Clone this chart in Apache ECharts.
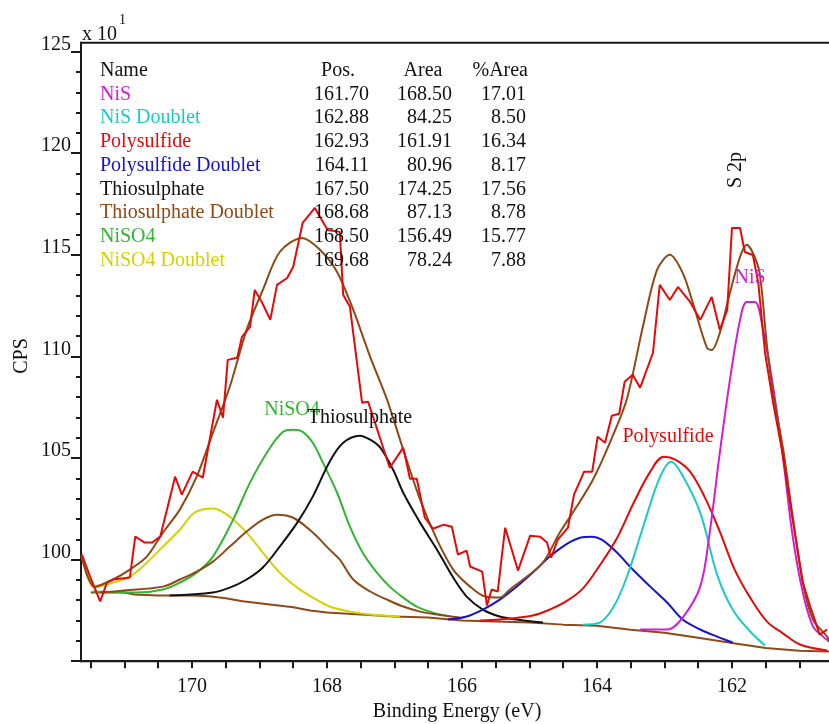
<!DOCTYPE html>
<html><head><meta charset="utf-8">
<script src="https://cdn.jsdelivr.net/npm/echarts@6/dist/echarts.min.js"></script>
<style>html,body{margin:0;padding:0;background:#fff}#c{width:829px;height:724px}</style>
</head><body><div id="c"></div>
<script>
// ---- data (binding energy eV, CPS x10^1) ----
const xTickValues = [161,161.5,162,162.5,163,163.5,164,164.5,165,165.5,166,166.5,167,167.5,168,168.5,169,169.5,170,170.5,171,171.5];
const xLabelValues = [162,164,166,168,170];
const yTickValues = [95,100,105,110,115,120,125];
const yLabelValues = [100,105,110,115,120,125];

const tableNames = ['NiS','NiS Doublet','Polysulfide','Polysulfide Doublet','Thiosulphate','Thiosulphate Doublet','NiSO4','NiSO4 Doublet'];
const tablePos = ['161.70','162.88','162.93','164.11','167.50','168.68','168.50','169.68'];
const tableArea = ['168.50','84.25','161.91','80.96','174.25','87.13','156.49','78.24'];
const tablePct = ['17.01','8.50','16.34','8.17','17.56','8.78','15.77','7.88'];

const rawData = [[171.63,100.25],[171.51,99.16],[171.36,97.94],[171.26,98.87],[171.17,99.02],[170.92,99.12],[170.84,101.13],[170.70,100.84],[170.59,100.84],[170.47,101.13],[170.25,104.08],[170.15,103.20],[169.99,104.33],[169.84,104.03],[169.63,107.87],[169.54,106.98],[169.47,109.83],[169.33,109.93],[169.26,110.96],[169.14,111.46],[169.07,113.27],[168.96,112.64],[168.84,111.80],[168.74,113.52],[168.59,113.86],[168.50,114.41],[168.36,116.57],[168.18,117.31],[167.99,116.22],[167.81,116.13],[167.76,113.03],[167.66,112.44],[167.48,107.72],[167.39,107.77],[167.07,104.52],[166.87,105.51],[166.77,103.98],[166.67,103.98],[166.55,102.06],[166.43,101.52],[166.27,101.72],[166.15,101.62],[166.06,100.25],[165.93,100.44],[165.88,99.66],[165.70,99.41],[165.63,97.74],[165.56,98.53],[165.47,98.43],[165.36,101.57],[165.17,99.46],[164.99,101.18],[164.84,101.13],[164.74,100.84],[164.68,100.10],[164.58,100.98],[164.43,101.57],[164.34,103.20],[164.19,104.33],[164.07,104.33],[163.99,106.05],[163.88,105.75],[163.78,107.08],[163.67,107.18],[163.59,108.75],[163.47,109.10],[163.36,108.46],[163.17,110.18],[163.07,113.52],[162.92,112.78],[162.80,113.42],[162.62,112.68],[162.47,111.80],[162.30,112.93],[162.18,111.31],[162.07,112.29],[162.00,116.32],[161.88,116.32],[161.81,115.14],[161.69,114.99],[161.61,113.62],[161.51,110.18],[161.39,107.72],[161.26,105.41],[161.10,101.97],[160.95,98.87],[160.84,97.69],[160.70,96.31],[160.59,96.56]];

const envelope = [[171.64,100.20],[171.44,98.67],[171.17,99.02],[170.92,99.51],[170.67,100.15],[170.43,101.33],[170.18,102.46],[169.93,104.08],[169.69,106.24],[169.44,108.51],[169.19,111.31],[168.95,113.27],[168.70,115.14],[168.37,115.83],[168.10,115.24],[167.85,114.16],[167.61,112.29],[167.36,109.98],[167.11,107.87],[166.87,105.41],[166.62,102.95],[166.37,100.98],[166.13,99.51],[165.88,98.67],[165.66,98.18],[165.44,98.13],[165.29,98.53],[165.04,99.16],[164.80,99.85],[164.55,101.33],[164.30,102.61],[164.06,103.93],[163.81,105.75],[163.56,107.87],[163.32,111.46],[163.11,114.26],[162.92,115.00],[162.73,114.11],[162.58,112.64],[162.37,110.42],[162.30,110.32],[162.18,111.16],[162.03,113.13],[161.88,114.90],[161.78,115.49],[161.69,115.09],[161.59,114.11],[161.48,110.47],[161.39,108.21],[161.24,105.41],[161.10,102.11],[160.95,98.87],[160.80,97.05],[160.59,96.21],[160.56,95.95]];

const background = [[171.50,98.38],[171.00,98.38],[170.85,98.28],[170.50,98.23],[170.00,98.23],[169.75,98.20],[169.50,98.10],[169.25,97.95],[169.00,97.85],[168.75,97.75],[168.50,97.65],[168.25,97.50],[168.00,97.40],[167.50,97.30],[167.00,97.20],[166.50,97.15],[166.00,97.00],[165.50,96.95],[165.00,96.90],[164.50,96.80],[164.00,96.75],[163.50,96.55],[163.00,96.40],[162.50,96.15],[162.00,95.90],[161.50,95.65],[161.00,95.52],[160.56,95.48]];

const nisoDoublet = [[171.63,100.20],[171.44,98.62],[171.17,98.87],[170.92,99.16],[170.67,99.85],[170.43,100.64],[170.18,101.47],[169.96,102.31],[169.69,102.51],[169.44,102.11],[169.19,101.33],[168.95,100.34],[168.70,99.36],[168.44,98.62],[168.21,98.13],[167.96,97.69],[167.66,97.44],[167.36,97.30],[166.92,97.20]];

const niso = [[171.47,98.43],[170.81,98.38],[170.43,98.53],[170.18,98.87],[169.93,99.36],[169.69,100.15],[169.39,101.97],[169.14,103.79],[168.89,105.26],[168.65,106.29],[168.50,106.39],[168.36,106.29],[168.21,105.75],[168.06,104.77],[167.85,103.29],[167.66,101.62],[167.47,100.34],[167.26,99.36],[167.07,98.67],[166.87,98.13],[166.67,97.69],[166.43,97.39],[166.18,97.20]];

const thioDoublet = [[171.36,98.38],[171.00,98.48],[170.43,98.67],[170.18,99.02],[169.93,99.41],[169.69,99.90],[169.44,100.64],[169.19,101.38],[168.95,101.97],[168.74,102.21],[168.50,102.06],[168.21,101.33],[167.96,100.49],[167.81,100.00],[167.61,99.02],[167.36,98.43],[167.11,98.03],[166.87,97.69],[166.62,97.44],[166.37,97.30],[166.03,97.15]];

const thio = [[170.33,98.23],[169.69,98.38],[169.44,98.62],[169.19,99.02],[168.95,99.61],[168.70,100.64],[168.44,101.82],[168.21,103.10],[167.96,104.82],[167.76,105.75],[167.51,106.10],[167.36,105.90],[167.21,105.51],[167.02,104.42],[166.87,103.29],[166.62,101.82],[166.37,100.49],[166.13,99.12],[165.93,98.18],[165.69,97.54],[165.44,97.20],[165.19,97.05],[164.80,96.90]];

const polyDoublet = [[166.21,97.05],[165.93,97.20],[165.69,97.54],[165.44,98.03],[165.19,98.67],[164.95,99.36],[164.70,100.15],[164.44,100.79],[164.25,101.08],[164.07,101.13],[163.93,100.98],[163.70,100.34],[163.47,99.51],[163.21,98.67],[162.96,97.89],[162.73,97.05],[162.47,96.56],[162.22,96.21],[161.99,95.92]];

const poly = [[165.73,97.00],[165.44,97.05],[164.95,97.25],[164.70,97.54],[164.44,97.98],[164.21,98.57],[163.96,99.71],[163.70,101.08],[163.47,102.70],[163.21,104.33],[163.01,105.06],[162.84,104.92],[162.62,104.33],[162.40,103.05],[162.18,101.38],[161.96,99.51],[161.73,98.13],[161.48,96.95],[161.24,96.36],[160.99,95.82],[160.59,95.53]];

const nisDoublet = [[164.21,96.80],[163.96,96.90],[163.76,97.64],[163.56,99.12],[163.32,101.57],[163.07,104.03],[162.90,104.82],[162.73,104.13],[162.47,102.31],[162.22,99.26],[161.99,97.54],[161.73,96.46],[161.51,95.77]];

const nis = [[163.36,96.56],[162.96,96.56],[162.73,97.15],[162.47,98.67],[162.33,101.33],[162.18,105.26],[162.03,108.85],[161.88,111.80],[161.78,112.68],[161.66,112.68],[161.54,111.31],[161.39,108.51],[161.24,104.92],[161.10,101.13],[160.95,98.38],[160.80,96.71],[160.65,96.21],[160.56,95.97]];

// ---- colours ----
const C = {
  nis:'#d21ed2', nisD:'#1ec8c8', poly:'#e40a0a', polyD:'#1414cc',
  thio:'#111111', thioD:'#8e4a16', niso:'#34b434', nisoD:'#d4d200',
  raw:'#e40a0a', env:'#8e4a16'
};
const tableColors = [C.nis, C.nisD, C.poly, C.polyD, C.thio, C.thioD, C.niso, C.nisoD];
const FONT = '"Liberation Serif","Times New Roman",serif';

function line(name, data, color, smooth, w, z){
  return {name, type:'line', data, showSymbol:false, smooth:smooth, z:z||2,
    lineStyle:{color, width:w||2}, itemStyle:{color}, silent:true, animation:false};
}

const chart = echarts.init(document.getElementById('c'), null, {renderer:'canvas'});

const graphics = [];
function txt(x,y,text,color,opts){
  opts = opts||{};
  graphics.push({type:'text', x, y, rotation:opts.rot||0, z:100,
    style:{text, fill:color, font:(opts.size||20)+'px '+FONT,
      textAlign:opts.align||'left', textVerticalAlign:'middle', verticalAlign:'middle', align:opts.align||'left'}});
}
// table
const row0 = 70.5, dy = 23.75;
txt(100,row0,'Name','#111');
txt(338,row0,'Pos.','#111',{align:'center'});
txt(423,row0,'Area','#111',{align:'center'});
txt(528,row0,'%Area','#111',{align:'right'});
tableNames.forEach((n,i)=>{
  const y = row0 + (i+1)*dy;
  txt(100,y,n,tableColors[i]);
  txt(369,y,tablePos[i],'#111',{align:'right'});
  txt(452,y,tableArea[i],'#111',{align:'right'});
  txt(526,y,tablePct[i],'#111',{align:'right'});
});
// multiplier
txt(82,35,'x 10','#111');
txt(119,20,'1','#111',{size:14});
// axis name CPS
txt(22,356,'CPS','#111',{align:'center',rot:Math.PI/2});
// annotations
txt(736,170,'S 2p','#111',{align:'center',rot:Math.PI/2});
txt(750,278,'NiS',C.nis,{align:'center'});
txt(668,437,'Polysulfide',C.poly,{align:'center'});
txt(292,410,'NiSO4',C.niso,{align:'center'});
txt(360,418,'Thiosulphate','#111',{align:'center'});

const option = {
  backgroundColor:'#fff',
  animation:false,
  grid:{left:81, top:42.7, width:752.2, height:618.5, show:true, borderColor:'#1a1a1a', borderWidth:2,
    backgroundColor:'transparent', containLabel:false, outerBoundsMode:'none'},
  xAxis:{type:'value', inverse:true, min:160.5, max:171.644, interval:0.5,
    name:'Binding Energy (eV)', nameLocation:'middle', nameGap:41,
    nameTextStyle:{fontFamily:FONT, fontSize:20, color:'#111'},
    axisLine:{show:true, onZero:false, lineStyle:{color:'#1a1a1a', width:2}},
    axisTick:{show:true, inside:false, length:7, lineStyle:{color:'#1a1a1a', width:2}, customValues:xTickValues},
    axisLabel:{show:true, margin:16, fontFamily:FONT, fontSize:20, color:'#111', lineHeight:20,
      customValues:xLabelValues,
      formatter:(v)=> xLabelValues.indexOf(Math.round(v*100)/100)>=0 ? String(v) : ''},
    splitLine:{show:false}},
  yAxis:{type:'value', min:95, max:125.44, interval:5,
    axisLine:{show:true, onZero:false, lineStyle:{color:'#1a1a1a', width:2}},
    axisTick:{show:true, inside:false, length:10, lineStyle:{color:'#1a1a1a', width:2}, customValues:yTickValues},
    minorTick:{show:true, splitNumber:5, length:5, lineStyle:{color:'#1a1a1a', width:2}},
    axisLabel:{show:true, margin:10, fontFamily:FONT, fontSize:20, color:'#111', lineHeight:14, verticalAlign:'bottom',
      customValues:yLabelValues,
      formatter:(v)=> yLabelValues.indexOf(Math.round(v*100)/100)>=0 ? String(v) : ''},
    splitLine:{show:false}, minorSplitLine:{show:false}},
  series:[
    line('Background', background, C.env, false, 2, 2),
    line('NiSO4 Doublet', nisoDoublet, C.nisoD, 0.35, 2, 3),
    line('NiSO4', niso, C.niso, 0.35, 2, 3),
    line('Thiosulphate Doublet', thioDoublet, C.thioD, 0.35, 2, 3),
    line('Thiosulphate', thio, C.thio, 0.35, 2, 3),
    line('Polysulfide Doublet', polyDoublet, C.polyD, 0.35, 2, 3),
    line('Polysulfide', poly, C.poly, 0.35, 2, 3),
    line('NiS Doublet', nisDoublet, C.nisD, 0.35, 2, 3),
    line('NiS', nis, C.nis, 0.35, 2, 3),
    line('Envelope', envelope, C.env, 0.3, 2, 4),
    line('Data', rawData, C.raw, false, 2, 5)
  ],
  graphic: graphics
};
chart.setOption(option);
</script></body></html>
